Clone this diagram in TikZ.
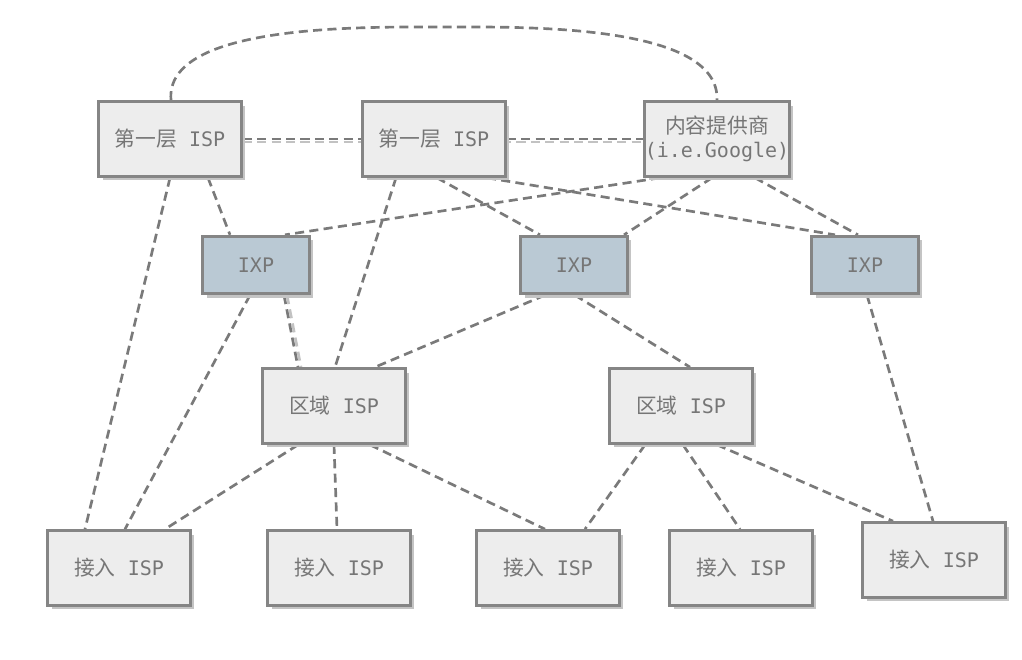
\documentclass[tikz,border=0pt]{standalone}
\usepackage{fontspec}
\newfontfamily\cjk{Noto Sans CJK SC}[Scale=1.04]
\setmonofont{DejaVu Sans Mono}
\usetikzlibrary{calc,backgrounds,shadows}
\definecolor{boxfill}{HTML}{EDEDED}
\definecolor{ixpfill}{HTML}{BAC9D4}
\definecolor{boxline}{HTML}{858585}
\definecolor{conncol}{HTML}{7A7A7A}
\definecolor{lightconn}{HTML}{C2C2C2}
\definecolor{txtcol}{HTML}{767676}
\definecolor{shadowcol}{HTML}{C4C4C4}
\tikzset{
  box/.style={draw=boxline, line width=2.25pt, fill=boxfill, rectangle,
    minimum width=107pt, minimum height=56pt, inner sep=0pt,
    text=txtcol, font=\ttfamily\fontsize{15}{18}\selectfont, align=center,
    drop shadow={shadow xshift=3pt, shadow yshift=-3pt, fill=shadowcol, opacity=1}},
  ixpbox/.style={box, fill=ixpfill, minimum width=80pt, minimum height=43pt},
  conn/.style={draw=conncol, line width=2pt, dash pattern=on 6.8pt off 4pt},
  lconn/.style={conn, draw=lightconn},
}
\begin{document}
\begin{tikzpicture}[x=0.75pt, y=-0.75pt]
\useasboundingbox (0,0) rectangle (1022,660);
% tier-1 row
\node[box] (t1a) at (170,139) {{\cjk 第一层} ISP};
\node[box] (t1b) at (434,139) {{\cjk 第一层} ISP};
\node[box] (cp) at (717,139) {{\cjk 内容提供商}\\(i.e.Google)};
% IXPs
\node[ixpbox] (ixp1) at (256,265) {IXP};
\node[ixpbox] (ixp2) at (574,265) {IXP};
\node[ixpbox] (ixp3) at (865,265) {IXP};
% regional
\node[box] (r1) at (334,406) {{\cjk 区域} ISP};
\node[box] (r2) at (681,406) {{\cjk 区域} ISP};
% access
\node[box] (a1) at (119,568) {{\cjk 接入} ISP};
\node[box] (a2) at (339,568) {{\cjk 接入} ISP};
\node[box] (a3) at (548,568) {{\cjk 接入} ISP};
\node[box] (a4) at (741,568) {{\cjk 接入} ISP};
\node[box] (a5) at (934,560) {{\cjk 接入} ISP};
\coordinate (arctop) at (444,27);
\begin{scope}[on background layer]
  % arc over the top
  \draw[conn] ($(t1a.north)+(1,0)$) .. controls +(-7,-77) and +(-77,0) .. (arctop)
              .. controls +(77,0) and +(3,-77) .. (cp.north);
  % horizontal peering
  \draw[lconn] ($(t1a.east)+(0,3)$) -- ($(cp.west)+(0,3)$);
  \draw[conn] (t1a.east) -- (t1b.west);
  \draw[conn] (t1b.east) -- (cp.west);
  % tier-1 down
  \draw[conn] (t1a.south) -- ($(a1.north)+(-34,0)$);
  \draw[conn] ($(t1a.south)+(38,0)$) -- ($(ixp1.north)+(-26,0)$);
  \draw[conn] ($(t1b.south)+(-38,0)$) -- ($(r1.north)+(1,0)$);
  \draw[conn] ($(t1b.south)+(3,0)$) -- ($(ixp2.north)+(-34,0)$);
  \draw[conn] ($(t1b.south)+(53,0)$) -- ($(ixp3.north)+(-30,0)$);
  \draw[conn] ($(cp.south)+(-57,0)$) -- ($(ixp1.north)+(29,0)$);
  \draw[conn] ($(cp.south)+(-5,0)$) -- ($(ixp2.north)+(50,0)$);
  \draw[conn] ($(cp.south)+(38,0)$) -- ($(ixp3.north)+(-7,0)$);
  % IXPs down
  \draw[conn] ($(ixp1.south)+(-6,0)$) -- ($(a1.north)+(6,0)$);
  \draw[lconn] ($(ixp1.south)+(31,0)$) -- ($(r1.north)+(-33,0)$);
  \draw[conn] ($(ixp1.south)+(28,0)$) -- ($(r1.north)+(-36,0)$);
  \draw[conn] ($(ixp2.south)+(-29,0)$) -- ($(r1.north)+(41,0)$);
  \draw[conn] ($(ixp2.south)+(1,0)$) -- ($(r2.north)+(9,0)$);
  \draw[conn] ($(ixp3.south)+(2,0)$) -- ($(a5.north)+(-1,0)$);
  % regional down
  \draw[conn] ($(r1.south)+(-36,0)$) -- ($(a1.north)+(46,0)$);
  \draw[conn] (r1.south) -- ($(a2.north)+(-2,0)$);
  \draw[conn] ($(r1.south)+(36,0)$) -- ($(a3.north)+(-3,0)$);
  \draw[conn] ($(r2.south)+(-36,0)$) -- ($(a3.north)+(37,0)$);
  \draw[conn] ($(r2.south)+(2,0)$) -- ($(a4.north)+(-1,0)$);
  \draw[conn] ($(r2.south)+(36,0)$) -- ($(a5.north)+(-41,0)$);
\end{scope}
\end{tikzpicture}
\end{document}
